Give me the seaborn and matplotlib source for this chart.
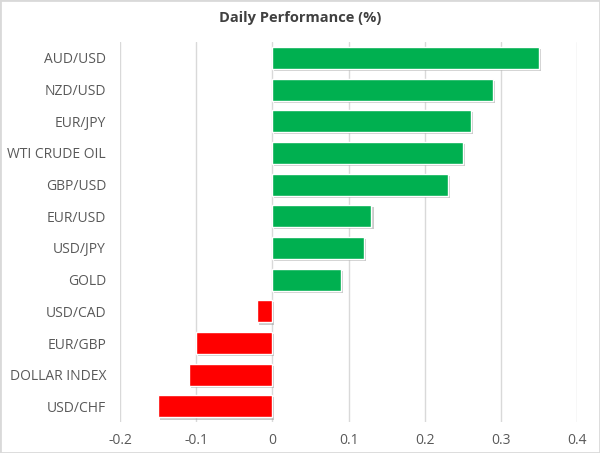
import pandas as pd
import matplotlib.pyplot as plt
import matplotlib.patheffects as pe
import seaborn as sns

# Chart data
pairs = ["AUD/USD", "NZD/USD", "EUR/JPY", "WTI CRUDE OIL", "GBP/USD", "EUR/USD",
         "USD/JPY", "GOLD", "USD/CAD", "EUR/GBP", "DOLLAR INDEX", "USD/CHF"]
change = [0.35, 0.29, 0.26, 0.25, 0.23, 0.13, 0.12, 0.09, -0.02, -0.10, -0.11, -0.15]
xticks = [-0.2, -0.1, 0, 0.1, 0.2, 0.3, 0.4]

df = pd.DataFrame({"pair": pairs, "change": change})
df["sign"] = ["up" if v >= 0 else "down" for v in df["change"]]

sns.set_theme(style="white")
plt.rcParams["font.family"] = ["Open Sans", "DejaVu Sans"]

fig = plt.figure(figsize=(6, 4.53), dpi=100)
ax = fig.add_axes([0.2, 0.068, 0.762, 0.839])

sns.barplot(data=df, x="change", y="pair", hue="sign", order=pairs,
            palette={"up": "#00B050", "down": "#FF0000"}, width=0.7, saturation=1,
            dodge=False, legend=False, ax=ax, orient="h", zorder=3)

for bar in ax.patches:
    bar.set_path_effects([pe.SimplePatchShadow(offset=(1.5, -1.5), shadow_rgbFace="#999999", alpha=0.5),
                          pe.Normal()])

ax.set_xlim(-0.2, 0.4)
ax.set_xticks(xticks)
ax.set_xticklabels([f"{t:g}" for t in xticks])
ax.xaxis.grid(True, color="#d9d9d9", linewidth=1, zorder=0)
ax.set_axisbelow(True)
for s in ax.spines.values():
    s.set_visible(False)
ax.tick_params(axis="both", length=0, labelsize=10, labelcolor="#595959")
ax.tick_params(axis="x", pad=8)
ax.tick_params(axis="y", pad=10)
ax.set_xlabel("")
ax.set_ylabel("")

fig.suptitle("Daily Performance (%)", fontsize=10.5, fontweight="bold", color="#404040", y=0.975)

# light frame round the picture
fig.patches.append(plt.Rectangle((0, 0), 1, 1, transform=fig.transFigure, fill=False,
                                 edgecolor="#d9d9d9", linewidth=2))

fig.savefig("out.png", dpi=100)
